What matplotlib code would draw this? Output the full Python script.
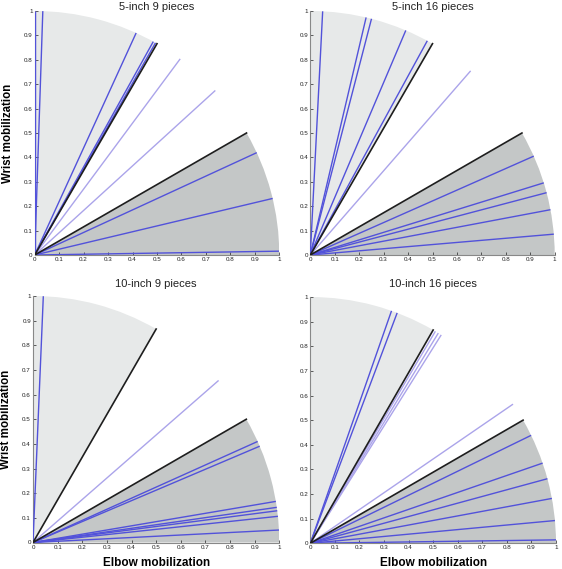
import numpy as np
import matplotlib
matplotlib.use("Agg")
import matplotlib.pyplot as plt
from matplotlib.patches import Wedge

plt.rcParams['font.family'] = ['Liberation Sans', 'DejaVu Sans']

titles = ["5-inch 9 pieces", "5-inch 16 pieces", "10-inch 9 pieces", "10-inch 16 pieces"]

# line angles (degrees) per panel; all lines have unit length
angles_5in_9 = [90.0, 88.1, 65.5, 61.0, 60.4, 53.5, 42.4, 24.8, 13.4, 0.9]
angles_5in_16 = [87.1, 76.8, 75.5, 67.0, 61.4, 49.0, 23.9, 17.2, 14.8, 10.7, 4.9]
angles_10in_9 = [87.6, 41.1, 24.2, 23.0, 9.6, 8.2, 7.4, 6.1, 2.9]
angles_10in_16 = [70.7, 69.3, 59.4, 58.6, 57.8, 34.4, 26.0, 19.0, 15.2, 10.5, 5.3, 0.8]
panel_angles = [angles_5in_9, angles_5in_16, angles_10in_9, angles_10in_16]

ticks = np.round(np.arange(0, 1.01, 0.1), 1)
tick_labels = ["0", "0.1", "0.2", "0.3", "0.4", "0.5", "0.6", "0.7", "0.8", "0.9", "1"]

W, H = 562, 569
fig = plt.figure(figsize=(W / 100, H / 100), dpi=100)

positions = [
    (34.7, 11, 279.3, 255),
    (310.3, 11, 554.7, 255),
    (33.0, 296, 279.3, 542.5),
    (310.3, 297, 556.0, 543.3),
]
title_y = [7.5, 7.5, 284, 284]

for i, (pos, title, angs) in enumerate(zip(positions, titles, panel_angles)):
    x0, y0, x1, y1 = pos
    ax = fig.add_axes([x0 / W, (H - y1) / H, (x1 - x0) / W, (y1 - y0) / H])
    ax.set_xlim(0, 1)
    ax.set_ylim(0, 1)
    ax.add_patch(Wedge((0, 0), 1, 60, 90, facecolor='#e7e9e9', edgecolor='none', zorder=1))
    ax.add_patch(Wedge((0, 0), 1, 0, 30, facecolor='#c4c7c7', edgecolor='none', zorder=1))
    for a in angs:
        t = np.deg2rad(a)
        if 30 < a < 60:
            col, lw = '#aba4ea', 1.0
        else:
            col, lw = '#5252da', 1.0
        ax.plot([0, np.cos(t)], [0, np.sin(t)], color=col, lw=lw, zorder=3,
                solid_capstyle='butt')
    for a in (30, 60):
        t = np.deg2rad(a)
        ax.plot([0, np.cos(t)], [0, np.sin(t)], color='#1e1e1e', lw=1.2, zorder=4)
    for s in ('top', 'right'):
        ax.spines[s].set_visible(False)
    for s in ('left', 'bottom'):
        ax.spines[s].set_color('#888888')
        ax.spines[s].set_linewidth(0.8)
    ax.set_xticks(ticks)
    ax.set_yticks(ticks)
    ax.set_xticklabels(tick_labels)
    ax.set_yticklabels(tick_labels)
    ax.tick_params(labelsize=4.5, length=2, width=0.5, direction='in', pad=1.5,
                   colors='#222222')
    fig.text((x0 + x1) / 2 / W, 1 - title_y[i] / H, title, fontsize=8,
             ha='center', va='center', color='#222222')
    if i in (0, 2):
        ax.set_ylabel("Wrist mobilization", fontsize=8.3, fontweight='bold', labelpad=7)
    if i in (2, 3):
        ax.set_xlabel("Elbow mobilization", fontsize=8.5, fontweight='bold', labelpad=5)

fig.savefig("out.png", dpi=100)
